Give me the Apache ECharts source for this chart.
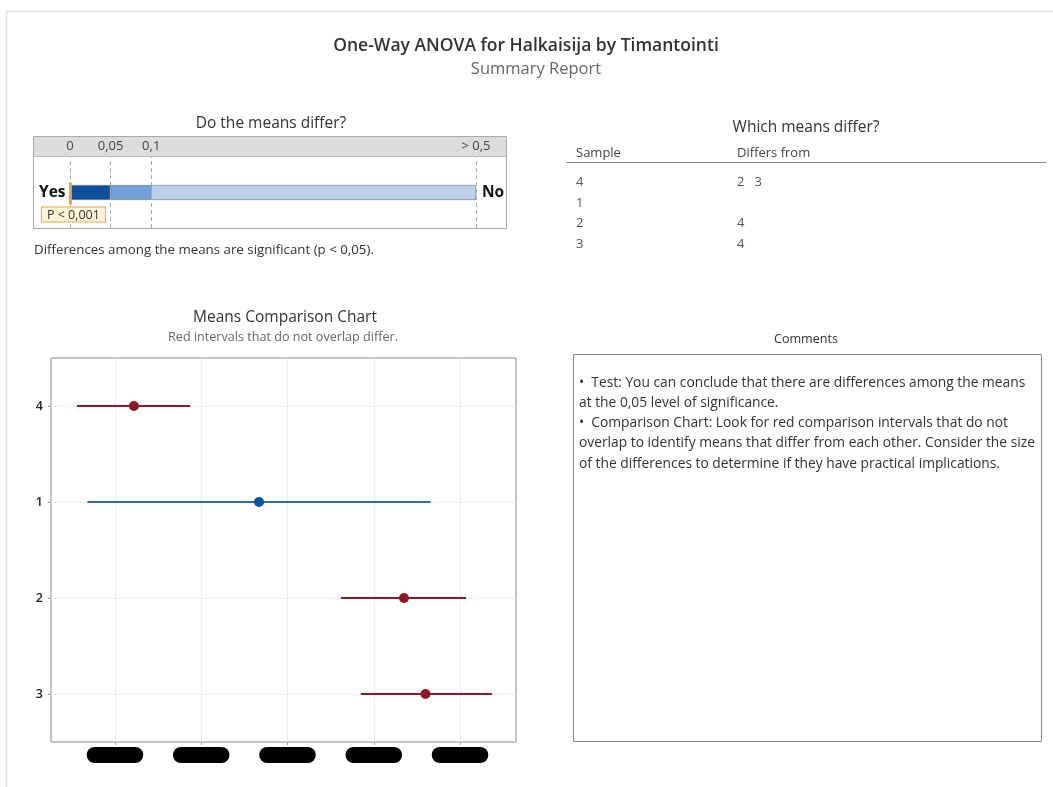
<!DOCTYPE html>
<html><head><meta charset="utf-8">
<script src="https://cdn.jsdelivr.net/npm/echarts@6/dist/echarts.min.js"></script>
<style>html,body{margin:0;padding:0;background:#fff}#c{width:1053px;height:787px}</style>
</head><body><div id="c"></div>
<script>
// ---- data ----
var samples = ['4', '1', '2', '3'];
var means = [12.2, 26.7, 43.5, 46.0];
var lowerCI = [5.6, 6.8, 36.2, 38.5];
var upperCI = [18.7, 46.6, 50.7, 53.7];
var differs = [true, false, true, true];
var xTicks = [10, 20, 30, 40, 50];
var pThresholds = [0, 0.05, 0.1, 0.5];
var pTickLabels = ['0', '0,05', '0,1', '> 0,5'];
var pValue = 0.0005;
var pLabel = 'P < 0,001';
var tableRows = [['4', '2   3'], ['1', ''], ['2', '4'], ['3', '4']];

var FONT = 'Open Sans';
var RED = '#8c1a24', BLUE_LINE = '#2a6fae', BLUE_DOT = '#0b52a3';
var chart = echarts.init(document.getElementById('c'));

var series = [];
// horizontal guide lines at each category
series.push({
  type: 'line', xAxisIndex: 0, yAxisIndex: 0, data: [], silent: true, z: 1,
  markLine: { symbol: 'none', silent: true, z: 1, label: { show: false },
    lineStyle: { color: '#ececec', width: 1, type: 'solid' },
    data: samples.map(function (s) { return { yAxis: s }; }) }
});
// confidence intervals
series.push({
  type: 'custom', xAxisIndex: 0, yAxisIndex: 0, silent: true, z: 4,
  data: samples.map(function (s, i) { return [lowerCI[i], upperCI[i], i]; }),
  encode: { x: [0, 1], y: 2 },
  renderItem: function (params, api) {
    var i = api.value(2);
    var p1 = api.coord([api.value(0), i]);
    var p2 = api.coord([api.value(1), i]);
    return { type: 'line', shape: { x1: p1[0], y1: p1[1], x2: p2[0], y2: p2[1] },
      style: { stroke: differs[i] ? RED : BLUE_LINE, lineWidth: 1.8 } };
  }
});
series.push({
  type: 'scatter', xAxisIndex: 0, yAxisIndex: 0, symbolSize: 10, silent: true, z: 5,
  data: samples.map(function (s, i) {
    return { value: [means[i], s], itemStyle: { color: differs[i] ? RED : BLUE_DOT, opacity: 1 } };
  })
});
// p-value bar
var segColors = ['#0b4f9e', '#6f9fd4', '#bcd0ea'];
for (var k = 0; k < pThresholds.length - 1; k++) {
  series.push({
    type: 'bar', xAxisIndex: 1, yAxisIndex: 1, stack: 'p', barWidth: 15, silent: true,
    itemStyle: { color: segColors[k], borderColor: '#7088ad', borderWidth: 0.7 },
    data: [[pThresholds[k + 1] - pThresholds[k], 'P']]
  });
}
series.push({
  type: 'scatter', xAxisIndex: 1, yAxisIndex: 1, silent: true, z: 5,
  symbol: 'rect', symbolSize: [3, 22], symbolOffset: [0, 1],
  itemStyle: { color: '#f2a33a', opacity: 1 },
  data: [[pValue, 'P']],
  label: { show: true, position: 'bottom', distance: 3, formatter: pLabel,
    fontFamily: FONT, fontSize: 12.5, color: '#333', backgroundColor: '#fff5da',
    borderColor: '#f0a53c', borderWidth: 1, padding: [1, 5, 0, 5], offset: [3, 0] },
  markLine: { symbol: 'none', silent: true, label: { show: false },
    lineStyle: { color: '#aaa', type: [4, 3], width: 1 },
    data: pThresholds.map(function (v) { return { xAxis: v }; }) }
});

var commentText = [
  '•  Test: You can conclude that there are differences among the means',
  'at the 0,05 level of significance.',
  '•  Comparison Chart: Look for red comparison intervals that do not',
  'overlap to identify means that differ from each other. Consider the size',
  'of the differences to determine if they have practical implications.'
].join('\n');

function txt(x, y, s, font, fill, align) {
  return { type: 'text', x: x, y: y, style: { text: s, font: font, fill: fill, textAlign: align || 'left', textVerticalAlign: 'middle' } };
}

var graphics = [
  { type: 'line', shape: { x1: 6, y1: 11.5, x2: 1053, y2: 11.5 }, style: { stroke: '#e2e2e2', lineWidth: 1.5 } },
  { type: 'line', shape: { x1: 6.5, y1: 11, x2: 6.5, y2: 787 }, style: { stroke: '#e2e2e2', lineWidth: 1.5 } },
  txt(526, 46, 'One-Way ANOVA for Halkaisija by Timantointi', '600 17.5px "Open Sans"', '#333', 'center'),
  txt(536, 69, 'Summary Report', '16.5px "Open Sans"', '#666', 'center'),
  // p panel
  txt(271, 124, 'Do the means differ?', '15.5px "Open Sans"', '#333', 'center'),
  { type: 'rect', z: -1, shape: { x: 33.5, y: 136.5, width: 473, height: 20 }, style: { fill: '#dcdcdc', stroke: 'none' } },
  { type: 'rect', z: 10, shape: { x: 33.5, y: 136.5, width: 473, height: 92 }, style: { fill: 'none', stroke: '#a9a9a9', lineWidth: 1 } },
  { type: 'line', z: 10, shape: { x1: 33.5, y1: 156.5, x2: 506.5, y2: 156.5 }, style: { stroke: '#bdbdbd', lineWidth: 1 } },
  txt(39, 193, 'Yes', 'bold 15.5px "Open Sans"', '#111'),
  txt(482, 193, 'No', 'bold 15.5px "Open Sans"', '#111'),
  txt(34, 250, 'Differences among the means are significant (p < 0,05).', '13.3px "Open Sans"', '#333'),
  // table
  txt(806, 128, 'Which means differ?', '15.5px "Open Sans"', '#333', 'center'),
  txt(576, 153, 'Sample', '13px "Open Sans"', '#444'),
  txt(737, 153, 'Differs from', '13px "Open Sans"', '#444'),
  { type: 'line', shape: { x1: 566, y1: 162.5, x2: 1046, y2: 162.5 }, style: { stroke: '#8a8a8a', lineWidth: 1 } },
  // means chart titles
  txt(285, 318, 'Means Comparison Chart', '15.5px "Open Sans"', '#333', 'center'),
  txt(283, 337, 'Red intervals that do not overlap differ.', '12.6px "Open Sans"', '#666', 'center'),
  // comments
  txt(806, 339, 'Comments', '12.6px "Open Sans"', '#333', 'center'),
  { type: 'rect', shape: { x: 573.5, y: 354.5, width: 468, height: 387 }, style: { fill: 'none', stroke: '#8a8a8a', lineWidth: 1 } },
  { type: 'text', x: 579, y: 372.5, style: { text: commentText, font: '13.8px "Open Sans"', fill: '#333', lineHeight: 20.3 } }
];
tableRows.forEach(function (r, i) {
  graphics.push(txt(576, 182.5 + i * 20.5, r[0], '13px "Open Sans"', '#555'));
  graphics.push(txt(737, 182.5 + i * 20.5, r[1], '13px "Open Sans"', '#555'));
});

var xMin = xTicks[0] - (115 - 51) / 86.3 * (xTicks[1] - xTicks[0]);
var xMax = xTicks[xTicks.length - 1] + (516 - 460) / 86.3 * (xTicks[1] - xTicks[0]);

chart.setOption({
  animation: false,
  textStyle: { fontFamily: FONT },
  grid: [
    { left: 51, top: 358, width: 465, height: 384, show: true, borderColor: '#8a8a8a', borderWidth: 1, backgroundColor: '#fff' },
    { left: 70, top: 157, width: 406, height: 71, show: false }
  ],
  xAxis: [
    { type: 'value', gridIndex: 0, min: xMin, max: xMax,
      axisLine: { show: false },
      axisTick: { show: true, customValues: xTicks, length: 3, lineStyle: { color: '#999' } },
      splitLine: { show: true, lineStyle: { color: '#ececec' } },
      axisLabel: { customValues: xTicks, margin: 5, fontSize: 11, color: '#000',
        backgroundColor: '#000', borderRadius: 8, padding: [2, 22, 3, 22],
        formatter: function (v) { return String(v); } } },
    { type: 'value', gridIndex: 1, position: 'top', min: pThresholds[0], max: pThresholds[pThresholds.length - 1],
      axisLine: { show: false }, axisTick: { show: false }, splitLine: { show: false },
      axisLabel: { customValues: pThresholds, margin: 4, fontSize: 13, color: '#444',
        formatter: function (v) { var i = pThresholds.indexOf(v); return i >= 0 ? pTickLabels[i] : ''; } } }
  ],
  yAxis: [
    { type: 'category', gridIndex: 0, data: samples, inverse: true,
      axisLine: { show: false },
      axisTick: { show: true, alignWithLabel: true, length: 3, lineStyle: { color: '#999' } },
      splitLine: { show: false },
      axisLabel: { fontSize: 12.5, fontWeight: 600, color: '#222', margin: 8 } },
    { type: 'category', gridIndex: 1, data: ['P'],
      axisLine: { show: false }, axisTick: { show: false }, axisLabel: { show: false } }
  ],
  series: series,
  graphic: graphics
});
</script></body></html>
